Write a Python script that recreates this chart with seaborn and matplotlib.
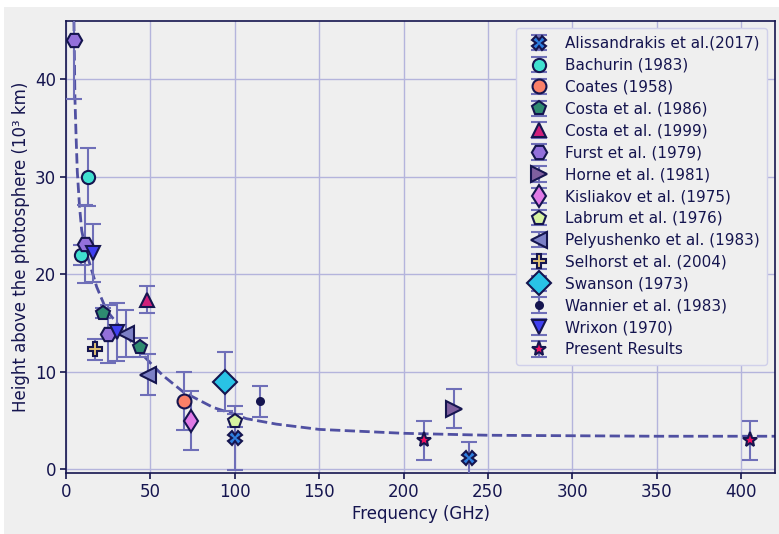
import matplotlib
matplotlib.use("Agg")
import matplotlib.pyplot as plt
from matplotlib.patches import Rectangle
import numpy as np
import pandas as pd
import seaborn as sns

# (frequency GHz, height 10^3 km, error)
studies = [
    "Alissandrakis et al.(2017)", "Bachurin (1983)", "Coates (1958)",
    "Costa et al. (1986)", "Costa et al. (1999)", "Furst et al. (1979)",
    "Horne et al. (1981)", "Kisliakov et al. (1975)", "Labrum et al. (1976)",
    "Pelyushenko et al. (1983)", "Selhorst et al. (2004)", "Swanson (1973)",
    "Wannier et al. (1983)", "Wrixon (1970)", "Present Results",
]
freq = [
    [100, 239], [9, 13], [70], [22, 44], [48], [5, 11, 25], [230], [74],
    [100], [35.5, 48.5], [17], [94], [115], [16, 30], [212, 405],
]
height = [
    [3.2, 1.15], [22, 30], [7], [16, 12.5], [17.4], [44, 23.1, 13.9], [6.2],
    [5], [5], [13.9, 9.7], [12.3], [9], [7], [22.2, 14.1], [3, 3],
]
err = [
    [3.3, 1.7], [1, 3], [3], [0.5, 1], [1.4], [6, 4, 3], [2], [3],
    [0.7], [2.4, 2.1], [1.1], [3], [1.6], [3, 3], [2, 2],
]

# dashed fit curve
curve_f = [4.5, 4.7, 5.0, 5.3, 6.0, 6.7, 8.0, 9.3, 11.5, 14.2, 18.2, 24, 32,
           41.8, 51.7, 57.6, 69.4, 87.2, 99, 106.9, 124.7, 150, 200, 250,
           300, 350, 420]
curve_h = [47.5, 45.9, 42, 38, 34, 30.5, 27, 24.5, 22.6, 21.0, 18.7, 16.3,
           14.6, 12.4, 10.6, 9.6, 7.95, 6.35, 5.7, 5.2, 4.64, 4.1, 3.7, 3.5,
           3.45, 3.4, 3.4]

markers = ["X", "o", "o", "p", "^", "H", ">", "d", "p", "<", "P", "D", "o", "v", "*"]
colors = ["#2f7fe0", "#40e0d0", "#fa8068", "#2e8b70", "#d0207a", "#9370db",
          "#7f5f9f", "#e07ae6", "#d6f2a0", "#7c80c6", "#e2c272", "#29c3e6",
          "#15154f", "#4040f2", "#ee1060"]
sizes = [10, 9.5, 10, 10.5, 10, 11, 11, 11.5, 10.5, 11, 10, 12, 5, 10.5, 11]

navy = "#15154f"
bg = "#efefef"

sns.set_theme(style="whitegrid", rc={
    "axes.facecolor": bg,
    "axes.edgecolor": navy,
    "grid.color": "#b4b4dc",
    "grid.linewidth": 1.0,
    "text.color": navy,
    "axes.labelcolor": navy,
    "xtick.color": navy,
    "ytick.color": navy,
    "xtick.bottom": True,
    "ytick.left": True,
})
plt.rcParams["font.family"] = ["DejaVu Sans"]

fig = plt.figure(figsize=(7.79, 5.34), dpi=100, facecolor="white")
fig.patches.append(Rectangle((4 / 779, 0), 1, 1 - 7 / 534, transform=fig.transFigure,
                             facecolor=bg, edgecolor="none", zorder=-10))
ax = fig.add_axes([66 / 779, 1 - 473.3 / 534, (775 - 66) / 779, (473.3 - 20.7) / 534])

curve = pd.DataFrame({"f": curve_f, "h": curve_h})
sns.lineplot(data=curve, x="f", y="h", ax=ax, color="#5050a2", lw=2,
             linestyle="--", legend=False, zorder=2)

for name, fx, hy, e, m, c, s in zip(studies, freq, height, err, markers, colors, sizes):
    ax.errorbar(fx, hy, yerr=e, fmt=m, ms=s, mfc=c, mec=navy, mew=1.5,
                ecolor="#6f6fb8", elinewidth=1.5, capsize=6, capthick=1.5,
                label=name, zorder=3)

ax.set_xlim(0, 420)
ax.set_ylim(-0.4, 46)
ax.set_xticks(np.arange(0, 401, 50))
ax.set_yticks(np.arange(0, 41, 10))
ax.tick_params(labelsize=12, length=4, width=1.2, direction="out", pad=3)
for sp in ax.spines.values():
    sp.set_linewidth(1.2)
    sp.set_color(navy)
ax.set_xlabel("Frequency (GHz)", fontsize=12, labelpad=3)
ax.set_ylabel("Height above the photosphere (10³ km)", fontsize=12, labelpad=4)

leg = ax.legend(loc="upper right", fontsize=11, labelspacing=0.45,
                facecolor=bg, edgecolor="#d0d0ea", framealpha=1,
                borderaxespad=0.5, handletextpad=0.7, borderpad=0.5)

fig.savefig("out.png", dpi=100, facecolor=fig.get_facecolor())
